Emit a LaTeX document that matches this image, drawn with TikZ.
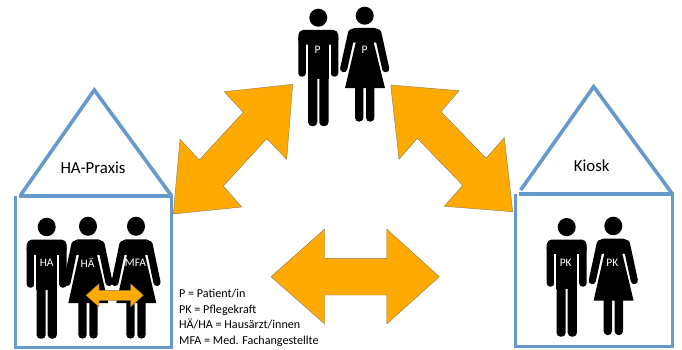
\documentclass[tikz,border=0pt]{standalone}
\usepackage{fontspec}
\setmainfont{Carlito}
\usepackage{xcolor}
\usetikzlibrary{positioning}
\definecolor{cHouse}{HTML}{6699CC}
\definecolor{cOrange}{HTML}{FFAA00}
\definecolor{cEdge}{HTML}{8C7A50}
\tikzset{
  wall/.style={draw=cHouse,line width=3pt},
  roof/.style={draw=cHouse,line width=3.6pt,line join=miter},
  beam/.style={draw=cHouse,line width=4.4pt},
  bigarr/.style={fill=cOrange,draw=cEdge,line width=0.4pt,line join=miter},
  housetxt/.style={font=\fontsize{16.8}{17}\selectfont,text=black,inner sep=0pt},
  figtxt/.style={font=\fontsize{11.5}{12}\selectfont,text=white,inner sep=0pt},
  legendtxt/.style={font=\fontsize{12.1}{15.6}\selectfont,text=black,inner sep=0pt,align=left,anchor=north west},
  manfig/.pic={
    \fill (0,9) circle (9);
    \fill[rounded corners=5pt] (-20,21.3) rectangle (20,36);
    \fill[rounded corners=3.5pt] (-20,26) rectangle (-12.4,68);
    \fill[rounded corners=3.5pt] (12.4,26) rectangle (20,68);
    \fill (-10.6,24) rectangle (10.6,70);
    \fill[rounded corners=4pt] (-10.2,60) rectangle (-1,117.5);
    \fill[rounded corners=4pt] (1,60) rectangle (10.2,117.5);
    \fill[white] (-12.4,36) rectangle (-10.6,68);
    \fill[white] (10.6,36) rectangle (12.4,68);
  },
  womanfig/.pic={
    \fill (0,9) circle (9);
    \draw[line width=7.2pt,line cap=round] (-13,26) -- (-21,62);
    \draw[line width=7.2pt,line cap=round] (13,26) -- (21,62);
    \fill[rounded corners=4pt] (-14,21.3) -- (14,21.3) -- (17,36) -- (-17,36) -- cycle;
    \draw[white,line width=1.4pt] (-9.5,36) -- (-16,66);
    \draw[white,line width=1.4pt] (9.5,36) -- (16,66);
    \fill (-13,24) -- (13,24) -- (9,36) -- (20.3,81.5) -- (-19.7,81.5) -- (-9,36) -- cycle;
    \fill[rounded corners=4pt] (-9.7,75) rectangle (-1.3,115);
    \fill[rounded corners=4pt] (1.3,75) rectangle (9.7,115);
  },
}

\begin{document}
\begin{tikzpicture}[x=1pt,y=-1pt]
    \useasboundingbox (0,0) rectangle (682,350);
    % houses
    \draw[roof] (20.7,195) -- (94.3,90) -- (171.7,196);
    \draw[wall] (15.7,196) -- (15.7,347.7) -- (171.7,347.7) -- (171.7,196);
    \draw[beam] (19,196) -- (173,196);
    \node[housetxt] (praxis) at (93,168) {HA-Praxis};
    \draw[roof] (520.7,190) -- (593.7,86.7) -- (671.7,193);
    \draw[wall] (515,193.7) -- (515,346) -- (672.3,346) -- (672.3,193.7);
    \draw[beam] (519,193.7) -- (673.5,193.7);
    \node[housetxt] (kiosk) at (591.7,166) {Kiosk};
    % people
    \pic at (318.3,8.7) {manfig};
    \pic at (364.7,6.7) {womanfig};
    \node[figtxt] (p1) at (317.7,50) {P};
    \node[figtxt] (p2) at (364.7,50) {P};
    \pic[yscale=1.03] at (46.7,217.7) {manfig};
    \pic[yscale=1.06] at (88,216.7) {womanfig};
    \pic[yscale=1.06] at (136,216.7) {womanfig};
    \node[figtxt] (ha) at (46.7,263) {HA};
    \node[figtxt] (hae) at (87.5,263) {HÄ};
    \node[figtxt] (mfa) at (135.5,263) {MFA};
    \pic[yscale=1.01] at (566.7,218) {manfig};
    \pic[yscale=1.03] at (613.3,216.7) {womanfig};
    \node[figtxt] (pk1) at (565.7,263) {PK};
    \node[figtxt] (pk2) at (612.3,263) {PK};
    % arrows
    \draw[bigarr] (292.7,84.3) -- (224.3,91.7) -- (243.3,112.3) -- (199.3,160) -- (180,139.3) -- (173.3,214) -- (241.7,207) -- (223.3,186) -- (266.7,138.7) -- (286.7,159.3) -- cycle;
    \draw[bigarr] (390.7,85) -- (459,90.7) -- (441,111.7) -- (486,158.3) -- (504.3,137.7) -- (512.7,211.7) -- (444.3,206.3) -- (462.7,185.3) -- (417.3,138.3) -- (399,159.3) -- cycle;
    \draw[bigarr] (271,276.7) -- (324.7,229) -- (324.7,258.3) -- (386.7,258.3) -- (386.7,229) -- (439.3,276.7) -- (386.7,324) -- (386.7,295) -- (324.7,295) -- (324.7,324) -- cycle;
    \draw[bigarr] (86,295.3) -- (99,283.8) -- (99,290.3) -- (130.7,290.3) -- (130.7,283.8) -- (143.3,295.3) -- (130.7,306.8) -- (130.7,300.3) -- (99,300.3) -- (99,306.8) -- cycle;
    \node[legendtxt] (legend) at (179,289) {P = Patient/in\\PK = Pflegekraft\\HÄ/HA = Hausärzt/innen\\MFA = Med. Fachangestellte};
\end{tikzpicture}
\end{document}
